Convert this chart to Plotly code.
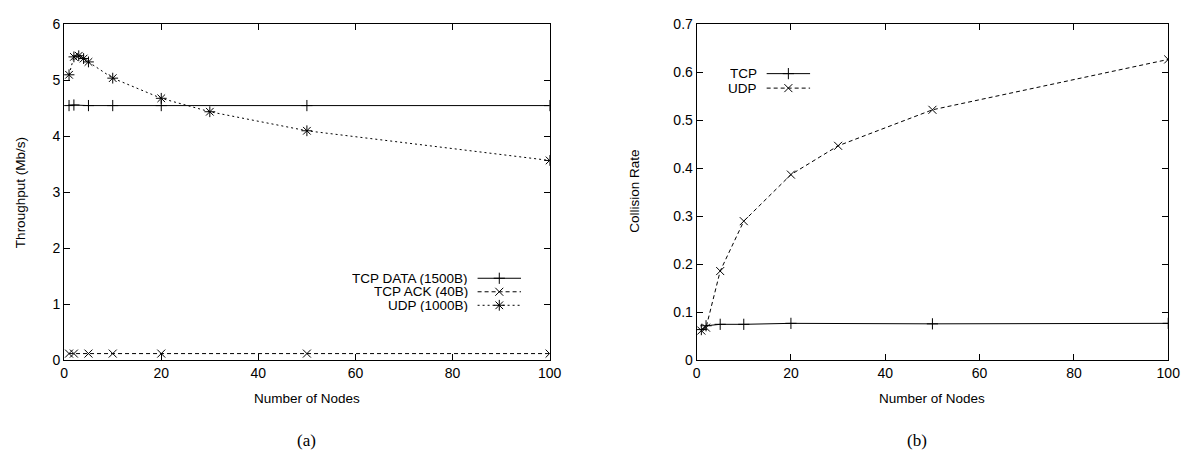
import plotly.graph_objects as go

# ---------------- data ----------------
nodes_tcp = [1, 2, 5, 10, 20, 50, 100]
tcp_data_tp = [4.55, 4.56, 4.55, 4.55, 4.55, 4.55, 4.55]
tcp_ack_tp = [0.12, 0.12, 0.12, 0.12, 0.12, 0.12, 0.12]

nodes_udp = [1, 2, 3, 4, 5, 10, 20, 30, 50, 100]
udp_tp = [5.10, 5.42, 5.44, 5.39, 5.33, 5.04, 4.68, 4.44, 4.10, 3.57]

nodes_coll_tcp = [1, 2, 5, 10, 20, 50, 100]
tcp_coll = [0.064, 0.072, 0.075, 0.075, 0.077, 0.076, 0.077]

nodes_coll_udp = [1, 2, 5, 10, 20, 30, 50, 100]
udp_coll = [0.062, 0.068, 0.186, 0.290, 0.387, 0.447, 0.522, 0.627]

x_ticks = [0, 20, 40, 60, 80, 100]
y_ticks_a = [0, 1, 2, 3, 4, 5, 6]
y_ticks_b = [0, 0.1, 0.2, 0.3, 0.4, 0.5, 0.6, 0.7]

legend_a = ["TCP DATA (1500B)", "TCP ACK (40B)", "UDP (1000B)"]
legend_b = ["TCP", "UDP"]

# ---------------- layout constants ----------------
W, H = 1197, 460
FONT = "Liberation Sans"
SERIF = "Liberation Serif"
top_px, bot_px = 17, 365
ax_a = (61, 553)
ax_b = (702, 1180)

def px_x(p):
    return p / W

def px_y(p):
    return 1 - p / H

styles = {
    "plus": dict(symbol="cross-thin", size=8, line=dict(width=1, color="black"), color="black"),
    "x": dict(symbol="x-thin", size=8, line=dict(width=1, color="black"), color="black"),
    "star": dict(symbol="asterisk", size=9, line=dict(width=1, color="black"), color="black"),
}

fig = go.Figure()

# (a) throughput
fig.add_trace(go.Scatter(x=nodes_tcp, y=tcp_data_tp, mode="lines+markers",
                         line=dict(color="black", width=1), marker=styles["plus"],
                         xaxis="x", yaxis="y", showlegend=False))
fig.add_trace(go.Scatter(x=nodes_tcp, y=tcp_ack_tp, mode="lines+markers",
                         line=dict(color="black", width=1, dash="4px,3px"), marker=styles["x"],
                         xaxis="x", yaxis="y", showlegend=False))
fig.add_trace(go.Scatter(x=nodes_udp, y=udp_tp, mode="lines+markers",
                         line=dict(color="black", width=1, dash="2px,3px"), marker=styles["star"],
                         xaxis="x", yaxis="y", showlegend=False))

# (b) collision rate
fig.add_trace(go.Scatter(x=nodes_coll_tcp, y=tcp_coll, mode="lines+markers",
                         line=dict(color="black", width=1), marker=styles["plus"],
                         xaxis="x2", yaxis="y2", showlegend=False))
fig.add_trace(go.Scatter(x=nodes_coll_udp, y=udp_coll, mode="lines+markers",
                         line=dict(color="black", width=1, dash="4px,3px"), marker=styles["x"],
                         xaxis="x2", yaxis="y2", showlegend=False))

# ---------------- legend samples (pixel overlay axis) ----------------
leg_a_rows = [280, 294, 308]
leg_a_dash = ["solid", "4px,3px", "2px,3px"]
leg_a_mk = ["plus", "x", "star"]
leg_b_rows = [68, 83]
leg_b_dash = ["solid", "4px,3px"]
leg_b_mk = ["plus", "x"]

annotations = []

def add_legend(rows, labels, dashes, mks, text_right, l0, l1):
    for r, lab, d, m in zip(rows, labels, dashes, mks):
        fig.add_trace(go.Scatter(x=[l0, l1], y=[r, r], mode="lines",
                                 line=dict(color="black", width=1, dash=d),
                                 xaxis="x3", yaxis="y3", showlegend=False, hoverinfo="skip"))
        fig.add_trace(go.Scatter(x=[(l0 + l1) / 2], y=[r], mode="markers",
                                 marker=styles[m], xaxis="x3", yaxis="y3",
                                 showlegend=False, hoverinfo="skip"))
        annotations.append(dict(text=lab, x=px_x(text_right), y=px_y(r), xref="paper", yref="paper",
                                xanchor="right", yanchor="middle", showarrow=False,
                                height=13, valign="middle", borderpad=0,
                                font=dict(family=FONT, size=13.5, color="black")))

add_legend(leg_a_rows, legend_a, leg_a_dash, leg_a_mk, 471, 480, 524)
add_legend(leg_b_rows, legend_b, leg_b_dash, leg_b_mk, 764, 773, 817)

# axis titles & captions
annotations += [
    dict(text="Throughput (Mb/s)", x=px_x(17), y=px_y(191), textangle=-90),
    dict(text="Collision Rate", x=px_x(639), y=px_y(190), textangle=-90),
    dict(text="Number of Nodes", x=px_x(307), y=px_y(405)),
    dict(text="Number of Nodes", x=px_x(941), y=px_y(405)),
]
for a in annotations[-4:]:
    a.update(xref="paper", yref="paper", showarrow=False, xanchor="center", yanchor="middle",
             font=dict(family=FONT, size=13.5, color="black"))
annotations += [
    dict(text="(a)", x=px_x(307), y=px_y(448), xref="paper", yref="paper", showarrow=False,
         xanchor="center", yanchor="middle", font=dict(family=SERIF, size=17, color="black")),
    dict(text="(b)", x=px_x(925), y=px_y(448), xref="paper", yref="paper", showarrow=False,
         xanchor="center", yanchor="middle", font=dict(family=SERIF, size=17, color="black")),
]

axis_common = dict(showline=True, linecolor="black", linewidth=1, mirror="ticks",
                   ticks="inside", ticklen=6, tickcolor="black", tickwidth=1,
                   showgrid=False, zeroline=False,
                   tickfont=dict(family=FONT, size=14, color="black"))

fig.update_layout(
    width=W, height=H,
    margin=dict(l=0, r=0, t=0, b=0),
    paper_bgcolor="white", plot_bgcolor="rgba(0,0,0,0)",
    xaxis=dict(domain=[px_x(ax_a[0]), px_x(ax_a[1])], range=[0, 100], tickvals=x_ticks,
               anchor="y", **axis_common),
    yaxis=dict(domain=[px_y(bot_px), px_y(top_px)], range=[0, 6], tickvals=y_ticks_a,
               anchor="x", **axis_common),
    xaxis2=dict(domain=[px_x(ax_b[0]), px_x(ax_b[1])], range=[0, 100], tickvals=x_ticks,
                anchor="y2", **axis_common),
    yaxis2=dict(domain=[px_y(bot_px), px_y(top_px)], range=[0, 0.7], tickvals=y_ticks_b,
                ticktext=[str(v) if v else "0" for v in y_ticks_b],
                anchor="x2", **axis_common),
    xaxis3=dict(domain=[0, 1], range=[0, W], visible=False, anchor="y3"),
    yaxis3=dict(domain=[0, 1], range=[H, 0], visible=False, anchor="x3"),
    annotations=annotations,
    showlegend=False,
)

fig.write_html("out.html")
